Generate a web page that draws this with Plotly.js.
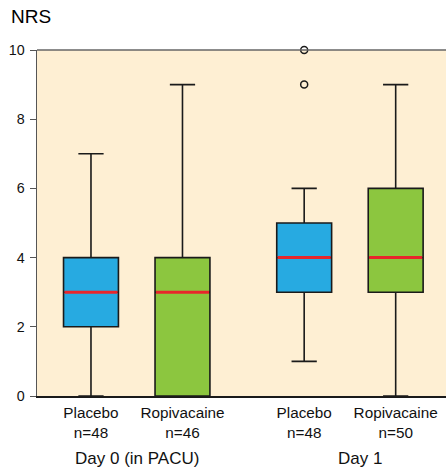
<!DOCTYPE html>
<html><head><meta charset="utf-8">
<script src="https://cdn.plot.ly/plotly-3.0.1.min.js"></script>
<style>html,body{margin:0;padding:0;background:#fff}#chart{width:446px;height:467px}</style>
</head><body><div id="chart"></div>
<script>
// Data
const groups = ["Placebo", "Ropivacaine", "Placebo", "Ropivacaine"];
const counts = ["n=48", "n=46", "n=48", "n=50"];
const days = ["Day 0 (in PACU)", "Day 1"];
const lowerWhisker = [0, 0, 1, 0];
const q1 = [2, 0, 3, 3];
const median = [3, 3, 4, 4];
const q3 = [4, 4, 5, 6];
const upperWhisker = [7, 9, 6, 9];
const outlierBox = [2, 2];      // index of box each outlier belongs to
const outlierValues = [9, 10];
const yTicks = [0, 2, 4, 6, 8, 10];

// Layout-only positions / styles
const pos = [0, 1, 2.33, 3.33];
const dayPos = [0.5, 2.94];
const colors = ["#27aae1", "#8cc63f", "#27aae1", "#8cc63f"];
const boxW = 0.6;

const traces = [];
for (let i = 0; i < groups.length; i++) {
  traces.push({
    type: "box",
    x: [pos[i]],
    q1: [q1[i]], median: [median[i]], q3: [q3[i]],
    lowerfence: [lowerWhisker[i]], upperfence: [upperWhisker[i]],
    width: boxW,
    whiskerwidth: 0.46,
    fillcolor: colors[i],
    line: {color: "#1a1a1a", width: 1.6},
    boxpoints: false,
    hoverinfo: "skip",
    showlegend: false
  });
}
// red median lines
const mx = [], my = [];
for (let i = 0; i < groups.length; i++) {
  mx.push(pos[i] - boxW / 2 + 0.01, pos[i] + boxW / 2 - 0.01, null);
  my.push(median[i], median[i], null);
}
traces.push({type: "scatter", mode: "lines", x: mx, y: my,
  line: {color: "#e8262b", width: 3}, showlegend: false, hoverinfo: "skip"});
// outliers
traces.push({type: "scatter", mode: "markers",
  x: outlierBox.map(b => pos[b]), y: outlierValues,
  marker: {symbol: "circle-open", size: 7, color: "#1a1a1a", line: {width: 1.5, color: "#1a1a1a"}},
  cliponaxis: false, showlegend: false, hoverinfo: "skip"});

const font = "Liberation Sans, Arial, Helvetica, sans-serif";
const layout = {
  width: 446, height: 467,
  margin: {l: 37, r: 0, t: 50, b: 71},
  paper_bgcolor: "#ffffff",
  plot_bgcolor: "#feefd3",
  font: {family: font, color: "#111"},
  showlegend: false,
  xaxis: {
    range: [-0.59, 3.88],
    tickvals: pos,
    ticktext: groups.map((g, i) => g + "<br>" + counts[i]),
    tickfont: {size: 15.3, color: "#111"},
    ticks: "", showgrid: false, zeroline: false,
    ticklabelstandoff: 2,
    showline: true, linecolor: "#1a1a1a", linewidth: 1.5,
    mirror: false, fixedrange: true
  },
  yaxis: {
    range: [0, 10],
    tickvals: yTicks,
    tickfont: {size: 14.3, color: "#111"},
    ticks: "outside", ticklen: 6, tickcolor: "#555", tickwidth: 1,
    ticklabelstandoff: 2,
    showgrid: false, zeroline: false,
    showline: true, linecolor: "#555", linewidth: 1.5,
    fixedrange: true
  },
  shapes: [{type: "line", xref: "paper", yref: "paper", x0: 0, x1: 1, y0: 1, y1: 1,
    line: {color: "#666", width: 1.5}}],
  annotations: [
    {text: "NRS", xref: "paper", yref: "paper", x: -0.068, y: 1.062, xanchor: "left", yanchor: "bottom",
      showarrow: false, font: {size: 19, color: "#000"}},
    ...days.map((d, i) => ({text: d, xref: "x", yref: "paper", x: dayPos[i], y: -0.148,
      xanchor: "center", yanchor: "top", showarrow: false, font: {size: 17, color: "#111"}}))
  ]
};
Plotly.newPlot("chart", traces, layout, {displayModeBar: false, staticPlot: true});
</script></body></html>
